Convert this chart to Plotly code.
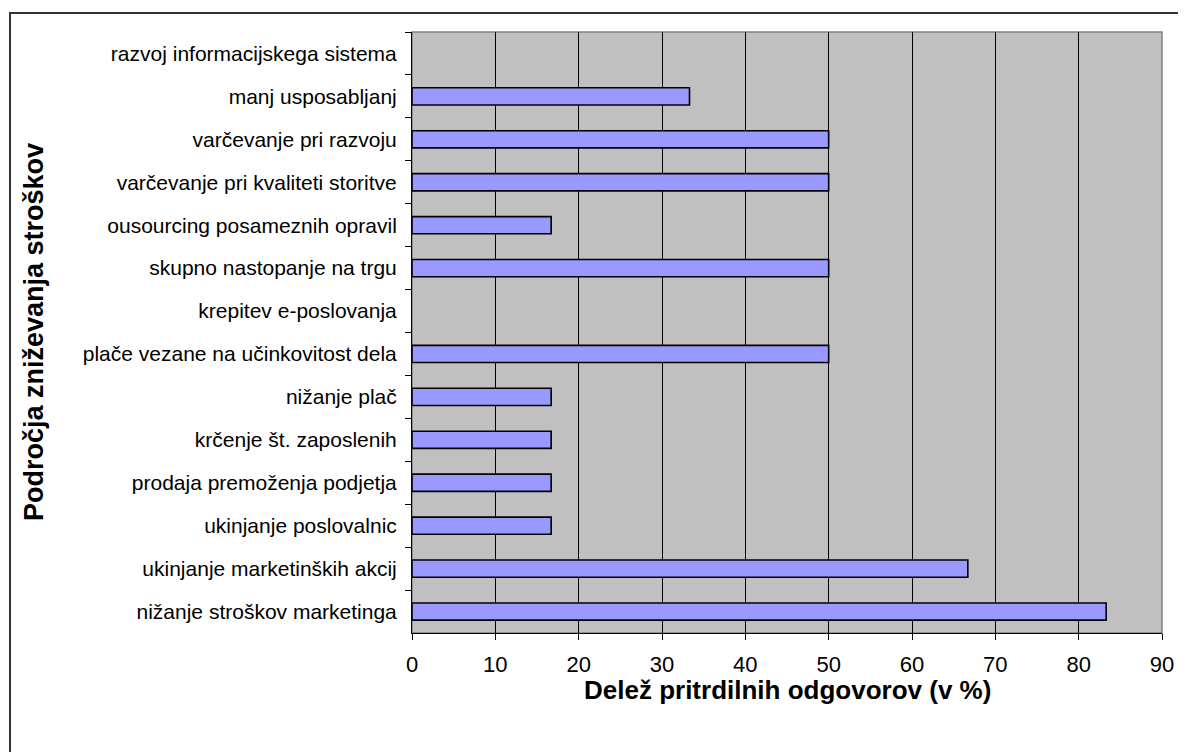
import plotly.graph_objects as go

categories = [
    "razvoj informacijskega sistema",
    "manj usposabljanj",
    "varčevanje pri razvoju",
    "varčevanje pri kvaliteti storitve",
    "ousourcing posameznih opravil",
    "skupno nastopanje na trgu",
    "krepitev e-poslovanja",
    "plače vezane na učinkovitost dela",
    "nižanje plač",
    "krčenje št. zaposlenih",
    "prodaja premoženja podjetja",
    "ukinjanje poslovalnic",
    "ukinjanje marketinških akcij",
    "nižanje stroškov marketinga",
]
values = [0, 33.3, 50, 50, 16.7, 50, 0, 50, 16.7, 16.7, 16.7, 16.7, 66.7, 83.3]
x_ticks = [0, 10, 20, 30, 40, 50, 60, 70, 80, 90]

# page body has an 8px offset
OFF = 8
W, H = 1186 - OFF, 752 - OFF
L, R, T, B = 412 - OFF, 24, 32 - OFF, 119
pw, ph = W - L - R, H - T - B

def px_x(sx):
    return (sx - OFF - L) / pw

def px_y(sy):
    return (H - B - (sy - OFF)) / ph

fig = go.Figure(go.Bar(
    y=categories, x=values, orientation="h",
    marker=dict(color="#9999FF",
                line=dict(color="black", width=[1.6 if v > 0 else 0 for v in values])),
    hoverinfo="x+y",
))

font = "Liberation Sans, Arial, sans-serif"
fig.update_layout(
    width=W, height=H,
    margin=dict(l=L, r=R, t=T, b=B, pad=0, autoexpand=False),
    paper_bgcolor="white", plot_bgcolor="#C0C0C0",
    bargap=0.6, showlegend=False,
    font=dict(family=font, size=21, color="black"),
    xaxis=dict(
        range=[0, 90], tickvals=x_ticks, ticktext=[str(v) for v in x_ticks],
        showgrid=True, gridcolor="black", gridwidth=1,
        zeroline=False, showline=True, linecolor="black", linewidth=1,
        ticks="outside", ticklen=6, tickcolor="black",
        ticklabelstandoff=6, tickfont=dict(size=22),
    ),
    yaxis=dict(
        autorange="reversed", type="category",
        showgrid=False, zeroline=False, showline=True, linecolor="black", linewidth=1,
        ticks="outside", ticklen=6, tickcolor="black", tickson="boundaries",
        ticklabelstandoff=10, tickfont=dict(size=21),
    ),
    annotations=[
        dict(text="<b>Delež pritrdilnih odgovorov (v %)</b>", xref="paper", yref="paper",
             x=px_x(787), y=px_y(690), xanchor="center", yanchor="middle",
             showarrow=False, font=dict(size=26)),
        dict(text="<b>Področja zniževanja stroškov</b>", xref="paper", yref="paper",
             x=px_x(34), y=px_y(332), xanchor="center", yanchor="middle",
             textangle=-90, showarrow=False, font=dict(size=27)),
    ],
    shapes=[
        dict(type="rect", xref="paper", yref="paper", x0=0, x1=1, y0=0, y1=1,
             line=dict(color="#808080", width=1.5), layer="below"),
        dict(type="rect", xref="paper", yref="paper",
             x0=px_x(10), x1=px_x(1220), y0=px_y(790), y1=px_y(13),
             line=dict(color="#333333", width=2)),
    ],
)

fig.write_html("out.html")
